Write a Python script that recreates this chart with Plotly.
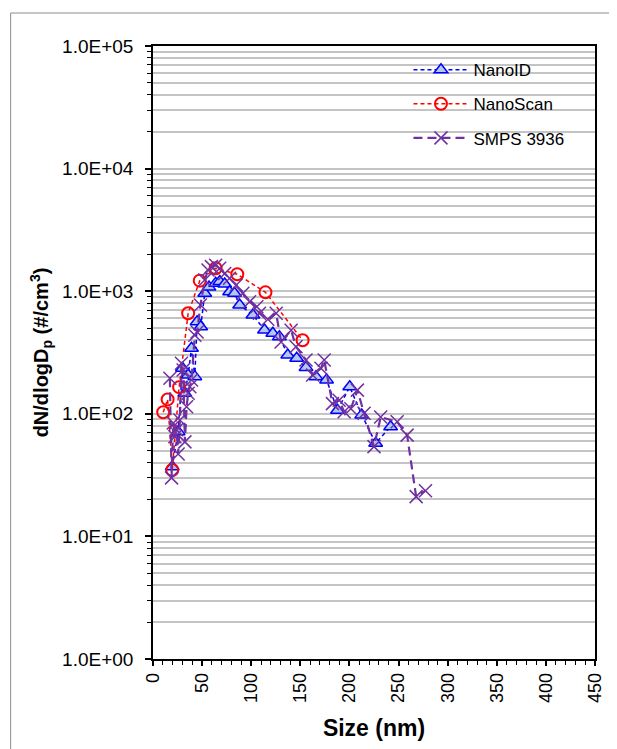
import plotly.graph_objects as go

# ---- data ----
nanoid_x = [19.6, 25.6, 30.0, 32.4, 35.8, 39.2, 42.6, 44.9, 48.6, 52.7, 57.0, 63.8, 68.0, 73.0, 78.0, 83.0,
            88.2, 101.7, 113.5, 122.0, 128.7, 137.2, 146.3, 155.8, 165.9, 176.7, 187.8, 200.3, 212.5,
            226.7, 241.9]
nanoid_y = [37, 71.5, 235, 147, 207, 342, 201, 564, 513, 961, 1080, 1159, 1200, 1145, 991, 961,
            771, 640, 483, 454, 426, 302, 284, 239, 201, 189, 107, 166, 98,
            57.5, 78.5]

nanoscan_x = [10.4, 14.9, 19.6, 26.6, 35.8, 47.6, 63.8, 85.8, 114.5, 152.3]
nanoscan_y = [103, 131, 34.8, 165, 660, 1219, 1537, 1374, 979, 398]

smps_x = [17.2, 18.9, 20.6, 22.3, 24.0, 25.6, 27.4, 29.0, 30.7, 32.5, 34.2, 35.8, 37.5, 39.2,
          42.6, 44.9, 48.3, 52.7, 56.0, 59.5, 63.8, 67.9, 73.0, 78.0, 84.8, 91.5, 98.3, 105.7,
          108.4, 116.9, 125.4, 130.4, 140.6, 145.6, 155.8, 162.5, 171.0, 174.3, 182.7, 189.5,
          194.6, 201.4, 208.1, 214.9, 225.0, 231.8, 248.6, 258.7, 267.9, 277.4]
smps_y = [195, 30, 84, 65, 74, 47, 89, 258, 228, 59, 114, 147, 166, 189,
          438, 464, 771, 1232, 1490, 1587, 1630, 1537, 1395, 1277, 1123, 961, 820, 747,
          660, 590, 660, 385, 481, 352, 275, 207, 235, 275, 121, 129,
          104, 110, 156, 101, 54, 94, 86, 67, 21.1, 23.6]

ytick_vals = [1, 10, 100, 1000, 10000, 100000]
ytick_text = ["1.0E+00", "1.0E+01", "1.0E+02", "1.0E+03", "1.0E+04", "1.0E+05"]
xtick_vals = list(range(0, 451, 50))

FONT = "Liberation Sans, Arial, sans-serif"

fig = go.Figure()

fig.add_trace(go.Scatter(
    x=nanoid_x, y=nanoid_y, name="NanoID", mode="lines+markers",
    legendgroup="a",
    line=dict(color="#0000FF", width=1.5, dash="4px,3px"),
    marker=dict(symbol="triangle-up", size=12, color="#B4C8EA",
                line=dict(color="#0000FF", width=1.5)),
))
fig.add_trace(go.Scatter(
    x=nanoscan_x, y=nanoscan_y, name="NanoScan", mode="lines+markers",
    legendgroup="b",
    line=dict(color="#FF0000", width=1.5, dash="4px,3px"),
    marker=dict(symbol="circle-open", size=12, color="#FF0000",
                line=dict(color="#FF0000", width=2)),
))
fig.add_trace(go.Scatter(
    x=smps_x, y=smps_y, name="SMPS 3936", mode="lines+markers",
    legendgroup="c",
    line=dict(color="#7030A0", width=2.2, dash="9px,5px"),
    marker=dict(symbol="x-thin", size=13, color="#7030A0",
                line=dict(color="#7030A0", width=1.5)),
))

# outer chart-area border
fig.add_shape(type="rect", xref="paper", yref="paper",
              x0=(10 - 153) / 444, x1=1.2, y0=-0.3, y1=(659 - 13) / 613,
              line=dict(color="#8C8C8C", width=1), fillcolor="rgba(0,0,0,0)", layer="below")

fig.update_layout(
    width=609, height=741,
    margin=dict(l=145, r=20, t=38, b=90),
    paper_bgcolor="white", plot_bgcolor="white",
    font=dict(family=FONT, color="black", size=16),
    showlegend=True,
    legend=dict(x=0.578, y=0.99, xanchor="left", yanchor="top",
                bgcolor="rgba(0,0,0,0)", font=dict(size=17, family=FONT),
                itemwidth=55, tracegroupgap=9, traceorder="grouped"),
    xaxis=dict(
        range=[0, 450], tickvals=xtick_vals, tickangle=-90,
        showgrid=False, zeroline=False,
        showline=True, linecolor="black", linewidth=1.5, mirror=True,
        ticks="outside", ticklen=5, tickcolor="black", tickwidth=1.5,
        tickfont=dict(size=18, family=FONT),
        minor=dict(dtick=10, ticks="outside", ticklen=4, tickcolor="black", tickwidth=1, showgrid=False),
        title=dict(text="<b>Size (nm)</b>", font=dict(size=23, family=FONT), standoff=18),
    ),
    yaxis=dict(
        type="log", range=[0, 5], tickvals=ytick_vals, ticktext=ytick_text,
        showgrid=True, gridcolor="#C4C4C4", gridwidth=1.5, zeroline=False,
        showline=True, linecolor="black", linewidth=1.5, mirror=True,
        ticks="outside", ticklen=6, tickcolor="black", tickwidth=1.5,
        tickfont=dict(size=19, family=FONT), ticklabelstandoff=8,
        minor=dict(dtick="D1", ticks="outside", ticklen=4, tickcolor="black", tickwidth=1,
                   showgrid=True, gridcolor="#C4C4C4", gridwidth=1.5),
        title=dict(text="<b>dN/dlogD<sub>p</sub> (#/cm<sup>3</sup>)</b>", font=dict(size=20, family=FONT),
                   standoff=8),
    ),
)

fig.write_html("out.html")
